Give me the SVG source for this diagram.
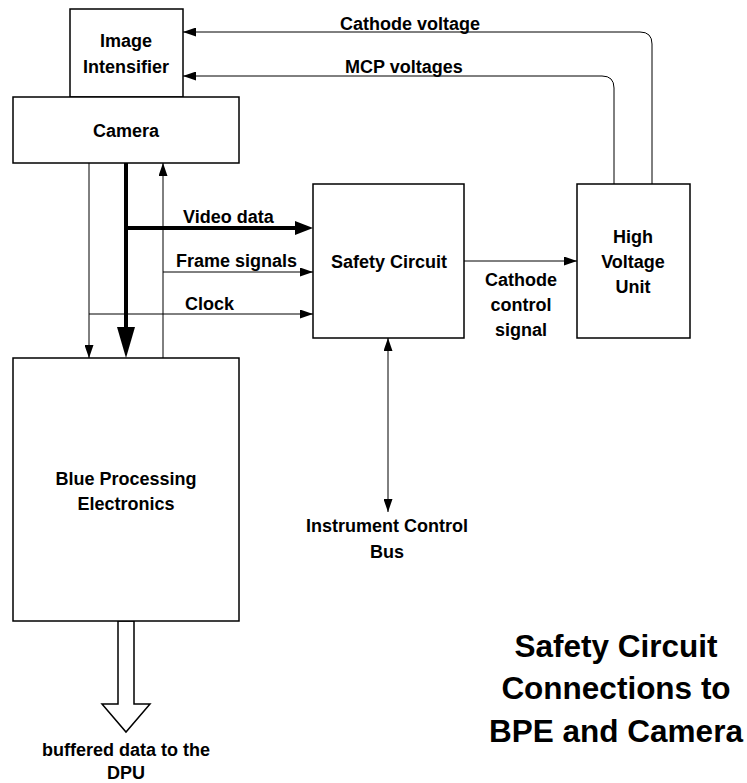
<svg xmlns="http://www.w3.org/2000/svg" width="747" height="783" viewBox="0 0 747 783">
<defs>
<style>
.box{fill:#fff;stroke:#000;stroke-width:1.5}
.ln{fill:none;stroke:#000;stroke-width:1}
.thick{fill:none;stroke:#000;stroke-width:4}
text{font-family:"Liberation Sans",Arial,sans-serif;font-weight:bold;font-size:18px;fill:#000}
.c{text-anchor:middle}
.title{font-size:31.5px}
</style>
<marker id="ah" markerUnits="userSpaceOnUse" markerWidth="13" markerHeight="9" refX="13" refY="4.5" orient="auto">
<path d="M0,0 L13,4.5 L0,9 Z" fill="#000"/>
</marker>
<marker id="ahs" markerUnits="userSpaceOnUse" markerWidth="13" markerHeight="9" refX="13" refY="4.5" orient="auto-start-reverse">
<path d="M0,0 L13,4.5 L0,9 Z" fill="#000"/>
</marker>
</defs>
<rect width="747" height="783" fill="#fff"/>
<g id="connectors">
<path class="ln" d="M652,184 V44 Q652,32 640,32 H183" marker-end="url(#ah)"/>
<path class="ln" d="M614,184 V88 Q614,76 602,76 H183" marker-end="url(#ah)"/>
<path class="ln" d="M89,163 V358" marker-end="url(#ah)"/>
<path class="ln" d="M163,358 V163" marker-end="url(#ah)"/>
<path class="ln" d="M89,314 H313" marker-end="url(#ah)"/>
<path class="ln" d="M163,272 H313" marker-end="url(#ah)"/>
<path class="thick" d="M126,163 V328"/>
<polygon points="117,327 135,327 126,358" fill="#000"/>
<path class="thick" d="M126,228 H296"/>
<polygon points="295,221 313,228 295,235" fill="#000"/>
<path class="ln" d="M464,261 H577" marker-end="url(#ah)"/>
<path class="ln" d="M388,338 V512" marker-start="url(#ahs)" marker-end="url(#ahs)"/>
<polygon points="118,621 134,621 134,704 150,704 126,732 102,704 118,704" fill="#fff" stroke="#000" stroke-width="1.5"/>
</g>
<g id="image-intensifier">
<rect class="box" x="70" y="9" width="113" height="88"/>
<text class="c" x="126" y="47">Image</text>
<text class="c" x="126" y="73">Intensifier</text>
</g>
<g id="camera">
<rect class="box" x="13" y="97" width="226" height="66"/>
<text class="c" x="126" y="137">Camera</text>
</g>
<g id="safety-circuit">
<rect class="box" x="313" y="184" width="151" height="154"/>
<text class="c" x="389" y="268">Safety Circuit</text>
</g>
<g id="high-voltage-unit">
<rect class="box" x="577" y="184" width="113" height="154"/>
<text class="c" x="633" y="243">High</text>
<text class="c" x="633" y="268">Voltage</text>
<text class="c" x="633" y="293">Unit</text>
</g>
<g id="bpe">
<rect class="box" x="13" y="358" width="226" height="263"/>
<text class="c" x="126" y="485">Blue Processing</text>
<text class="c" x="126" y="510">Electronics</text>
</g>
<g id="labels">
<text x="340" y="30">Cathode voltage</text>
<text x="345" y="73">MCP voltages</text>
<text x="183" y="223">Video data</text>
<text x="176" y="267">Frame signals</text>
<text x="185" y="310">Clock</text>
<text class="c" x="521" y="286">Cathode</text>
<text class="c" x="521" y="311">control</text>
<text class="c" x="521" y="336">signal</text>
<text class="c" x="387" y="532">Instrument Control</text>
<text class="c" x="387" y="558">Bus</text>
<text class="c" x="126" y="756">buffered data to the</text>
<text class="c" x="126" y="779">DPU</text>
</g>
<g id="title">
<text class="c title" x="616" y="657">Safety Circuit</text>
<text class="c title" x="616" y="699">Connections to</text>
<text class="c title" x="616" y="742">BPE and Camera</text>
</g>
</svg>
